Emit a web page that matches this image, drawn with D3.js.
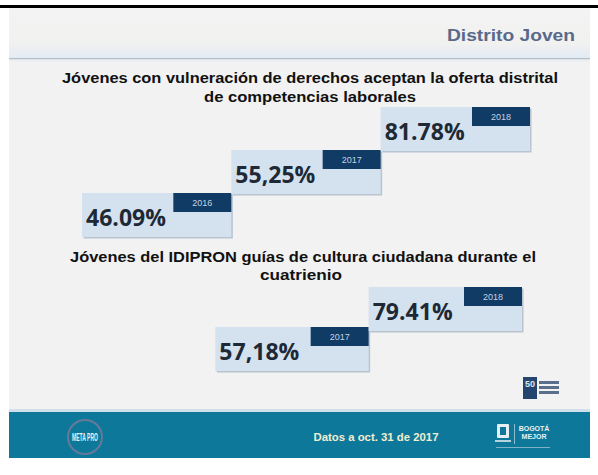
<!DOCTYPE html>
<html>
<head>
<meta charset="utf-8">
<script src="https://cdn.jsdelivr.net/npm/d3@7"></script>
<style>
  html, body { margin: 0; padding: 0; background: #ffffff; }
  svg { display: block; }
</style>
</head>
<body>
<script>
// ---- data ----
const headerTitle = "Distrito Joven";
const title1Lines = ["Jóvenes con vulneración de derechos aceptan la oferta distrital", "de competencias laborales"];
const title2Lines = ["Jóvenes del IDIPRON guías de cultura ciudadana durante el", "cuatrienio"];
const allYears = ["2016", "2017", "2018"];
const years1 = ["2016", "2017", "2018"];
const values1 = [46.09, 55.25, 81.78];
const valueLabels1 = ["46.09%", "55,25%", "81.78%"];
const years2 = ["2017", "2018"];
const values2 = [57.18, 79.41];
const valueLabels2 = ["57,18%", "79.41%"];
const footerText = "Datos a oct. 31 de 2017";

const W = 598, H = 475;
const svg = d3.select("body").append("svg").attr("width", W).attr("height", H);
const defs = svg.append("defs");

// slide frame
const slideL = 9, slideR = 590, slideT = 8, slideB = 458;
svg.append("rect").attr("x", 0).attr("y", 5).attr("width", W).attr("height", 3).attr("fill", "#000");
svg.append("rect").attr("x", slideL).attr("y", slideT).attr("width", slideR - slideL).attr("height", slideB - slideT).attr("fill", "#f2f2f2");

// header gradient
const hg = defs.append("linearGradient").attr("id", "hg").attr("x1", 0).attr("y1", 0).attr("x2", 0).attr("y2", 1);
hg.append("stop").attr("offset", "0%").attr("stop-color", "#f3f3f3");
hg.append("stop").attr("offset", "70%").attr("stop-color", "#f1f1f0");
hg.append("stop").attr("offset", "100%").attr("stop-color", "#e2ebf4");
svg.append("rect").attr("x", slideL).attr("y", slideT).attr("width", slideR - slideL).attr("height", 50).attr("fill", "url(#hg)");
svg.append("rect").attr("x", slideL).attr("y", 58).attr("width", slideR - slideL).attr("height", 1.5).attr("fill", "#b4bec9");
svg.append("rect").attr("x", slideL).attr("y", 59.5).attr("width", slideR - slideL).attr("height", 2).attr("fill", "#e9eef3");

svg.append("text").attr("x", 575).attr("y", 41).attr("text-anchor", "end")
  .attr("font-family", "Liberation Sans, Arial, sans-serif").attr("font-weight", "bold")
  .attr("font-size", 16).attr("fill", "#58698a")
  .attr("textLength", 128).attr("lengthAdjust", "spacingAndGlyphs")
  .text(headerTitle);

// titles
function drawTitle(lines, baselines, widths, cx) {
  lines.forEach((t, i) => {
    svg.append("text").attr("x", cx[i]).attr("y", baselines[i]).attr("text-anchor", "middle")
      .attr("font-family", "Liberation Sans, Arial, sans-serif").attr("font-weight", "bold")
      .attr("font-size", 14).attr("fill", "#111")
      .attr("textLength", widths[i]).attr("lengthAdjust", "spacingAndGlyphs")
      .text(t);
  });
}
drawTitle(title1Lines, [83, 102], [496, 212], [310, 310]);
drawTitle(title2Lines, [262, 280], [466, 82], [303, 301]);

// scales
const x1 = d3.scaleBand().domain(allYears).range([82, 530]);
const y1 = d3.scalePoint().domain(allYears).range([193, 107]);
const x2 = d3.scaleBand().domain(allYears).range([62, 522]);
const y2 = d3.scalePoint().domain(allYears).range([367, 287]);

const boxH = 44, tagW = 58, tagH = 19;

function drawBoxes(years, values, labels, xs, ys, cls) {
  const data = years.map((y, i) => ({ year: y, value: values[i], label: labels[i] }));
  const g = svg.append("g").attr("class", cls);
  const items = g.selectAll("g.item").data(data).join("g").attr("class", "item")
    .attr("transform", d => `translate(${xs(d.year)},${ys(d.year)})`);
  // shadow
  items.append("rect").attr("x", 1.5).attr("y", 1.5).attr("width", xs.bandwidth()).attr("height", boxH)
    .attr("fill", "#b9c4cf");
  items.append("rect").attr("x", 0).attr("y", 0).attr("width", xs.bandwidth()).attr("height", boxH)
    .attr("fill", "#d4e2f0");
  items.append("rect").attr("x", xs.bandwidth() - tagW).attr("y", 0).attr("width", tagW).attr("height", tagH)
    .attr("fill", "#0f3b64");
  items.append("text").attr("x", xs.bandwidth() - tagW / 2).attr("y", 13).attr("text-anchor", "middle")
    .attr("font-family", "Liberation Sans, Arial, sans-serif").attr("font-size", 9)
    .attr("fill", "#c3d2e4").text(d => d.year);
  items.append("text").attr("x", 4).attr("y", 33)
    .attr("font-family", "Open Sans, sans-serif").attr("font-weight", "bold")
    .attr("font-size", 23).attr("fill", "#1e2935")
    .attr("textLength", 80).attr("lengthAdjust", "spacingAndGlyphs")
    .text(d => d.label);
}
drawBoxes(years1, values1, valueLabels1, x1, y1, "sec1");
drawBoxes(years2, values2, valueLabels2, x2, y2, "sec2");

// top-right small logo
const lg = svg.append("g").attr("transform", "translate(523,377)");
lg.append("rect").attr("width", 14).attr("height", 22).attr("fill", "#23456e");
lg.append("text").attr("x", 7).attr("y", 10).attr("text-anchor", "middle").attr("font-family", "Liberation Sans, Arial").attr("font-weight", "bold").attr("font-size", 9).attr("fill", "#dfe7f0").text("50");
[4, 9, 14].forEach(dy => lg.append("rect").attr("x", 16).attr("y", dy).attr("width", 20).attr("height", 3).attr("fill", "#5b6f8c"));

// footer
svg.append("rect").attr("x", slideL).attr("y", 409).attr("width", slideR - slideL).attr("height", 3).attr("fill", "#cfe0ea");
svg.append("rect").attr("x", slideL).attr("y", 412).attr("width", slideR - slideL).attr("height", slideB - 412).attr("fill", "#0e789a");
// META PRO logo
const mp = svg.append("g").attr("transform", "translate(85,437)");
mp.append("circle").attr("r", 17).attr("fill", "none").attr("stroke", "#8a7a9a").attr("stroke-width", 2).attr("opacity", 0.7);
mp.append("text").attr("y", 4).attr("text-anchor", "middle").attr("font-family", "Liberation Sans Narrow, Liberation Sans, Arial").attr("font-weight", "bold")
  .attr("font-size", 10).attr("fill", "#e6f2f6").attr("textLength", 26).attr("lengthAdjust", "spacingAndGlyphs").text("META PRO");
svg.append("text").attr("x", 376).attr("y", 441).attr("text-anchor", "middle")
  .attr("font-family", "Liberation Sans, Arial, sans-serif").attr("font-weight", "bold").attr("font-size", 10)
  .attr("fill", "#f2eed0").attr("textLength", 125).attr("lengthAdjust", "spacingAndGlyphs").text(footerText);
// right logos
const rl = svg.append("g");
rl.append("rect").attr("x", 497).attr("y", 424).attr("width", 12).attr("height", 14).attr("fill", "#e8eef4").attr("rx", 1);
rl.append("rect").attr("x", 500).attr("y", 427).attr("width", 6).attr("height", 8).attr("fill", "#0e789a");
rl.append("rect").attr("x", 495).attr("y", 440).attr("width", 16).attr("height", 2).attr("fill", "#b7d3e0");
rl.append("rect").attr("x", 514).attr("y", 424).attr("width", 1).attr("height", 20).attr("fill", "#8fbccd");
rl.append("text").attr("x", 534).attr("y", 431).attr("text-anchor", "middle").attr("font-family", "Liberation Sans, Arial").attr("font-weight", "bold").attr("font-size", 7).attr("fill", "#e8f0f4").text("BOGOTÁ");
rl.append("text").attr("x", 534).attr("y", 439).attr("text-anchor", "middle").attr("font-family", "Liberation Sans, Arial").attr("font-weight", "bold").attr("font-size", 7).attr("fill", "#e8f0f4").text("MEJOR");
rl.append("rect").attr("x", 496).attr("y", 447).attr("width", 54).attr("height", 1).attr("fill", "#7fb2c6");
</script>
</body>
</html>
